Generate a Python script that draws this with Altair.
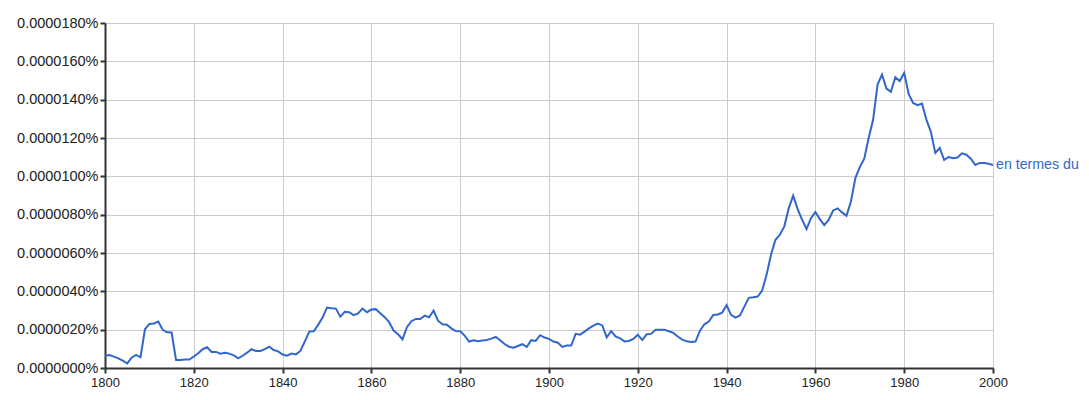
import altair as alt
import pandas as pd

years = list(range(1800, 2001))

# values in units of 0.000001 %
values = [
    0.64, 0.68, 0.59, 0.50, 0.38, 0.24, 0.54, 0.68, 0.56, 2.02,   # 1800-1809
    2.30, 2.32, 2.42, 1.99, 1.86, 1.85, 0.42, 0.42, 0.44, 0.44,   # 1810-1819
    0.60, 0.77, 0.98, 1.08, 0.84, 0.84, 0.75, 0.80, 0.75, 0.66,   # 1820-1829
    0.50, 0.64, 0.80, 0.98, 0.89, 0.89, 0.98, 1.11, 0.94, 0.87,   # 1830-1839
    0.70, 0.64, 0.75, 0.71, 0.89, 1.38, 1.90, 1.92, 2.25, 2.63,   # 1840-1849
    3.15, 3.12, 3.10, 2.68, 2.93, 2.91, 2.76, 2.85, 3.10, 2.91,   # 1850-1859
    3.05, 3.07, 2.86, 2.65, 2.39, 1.95, 1.76, 1.50, 2.13, 2.44,   # 1860-1869
    2.56, 2.56, 2.73, 2.65, 3.00, 2.47, 2.28, 2.26, 2.07, 1.93,   # 1870-1879
    1.92, 1.69, 1.38, 1.45, 1.40, 1.43, 1.46, 1.53, 1.62, 1.45,   # 1880-1889
    1.25, 1.11, 1.06, 1.15, 1.24, 1.10, 1.45, 1.41, 1.71, 1.59,   # 1890-1899
    1.52, 1.38, 1.32, 1.10, 1.17, 1.17, 1.78, 1.74, 1.90, 2.07,   # 1900-1909
    2.21, 2.32, 2.22, 1.60, 1.92, 1.65, 1.55, 1.39, 1.41, 1.52,   # 1910-1919
    1.74, 1.46, 1.76, 1.78, 1.99, 1.99, 1.99, 1.92, 1.83, 1.64,   # 1920-1929
    1.48, 1.39, 1.36, 1.38, 1.95, 2.28, 2.42, 2.77, 2.79, 2.89,   # 1930-1939
    3.28, 2.77, 2.63, 2.74, 3.20, 3.66, 3.69, 3.73, 4.04, 4.86,   # 1940-1949
    5.91, 6.69, 6.95, 7.39, 8.34, 8.99, 8.29, 7.74, 7.25, 7.82,   # 1950-1959
    8.14, 7.77, 7.46, 7.74, 8.22, 8.33, 8.12, 7.94, 8.69, 9.91,   # 1960-1969
    10.48, 10.92, 12.00, 12.96, 14.79, 15.31, 14.58, 14.41, 15.17, 14.97,  # 1970-1979
    15.40, 14.30, 13.83, 13.71, 13.80, 12.96, 12.32, 11.22, 11.48, 10.85,  # 1980-1989
    11.01, 10.94, 10.98, 11.20, 11.13, 10.92, 10.59, 10.70, 10.70, 10.66,  # 1990-1999
    10.59,                                                              # 2000
]

series_name = "en termes du"
x_ticks = list(range(1800, 2001, 20))
y_ticks = list(range(0, 19, 2))

df = pd.DataFrame({"year": years, "value": values})
df_label = pd.DataFrame({"year": [years[-1]], "value": [values[-1]], "name": [series_name]})

line_color = "#3366cc"
font = "Liberation Sans"

x_enc = alt.X(
    "year:Q",
    scale=alt.Scale(domain=[1800, 2000], nice=False, zero=False),
    axis=alt.Axis(
        values=x_ticks, format="d", title=None, grid=True, gridColor="#cccccc",
        domainColor="#333333", domainWidth=2, tickColor="#333333", tickSize=5, tickWidth=2,
        labelFont=font, labelFontSize=13, labelColor="#222222", labelPadding=3,
        labelFlush=False, labelOverlap=False,
    ),
)
y_enc = alt.Y(
    "value:Q",
    scale=alt.Scale(domain=[0, 18], nice=False),
    axis=alt.Axis(
        values=y_ticks, title=None, grid=True, gridColor="#cccccc",
        labelExpr="format(datum.value * 1e-8, '.7%')",
        domainColor="#333333", domainWidth=2, tickColor="#333333", tickSize=5, tickWidth=2,
        labelFont=font, labelFontSize=14.5, labelColor="#222222", labelPadding=2,
        labelOverlap=False, labelBound=False,
    ),
)

line = alt.Chart(df).mark_line(color=line_color, strokeWidth=2, interpolate="linear").encode(
    x=x_enc, y=y_enc
)

label = alt.Chart(df_label).mark_text(
    align="left", baseline="middle", dx=3, font=font, fontSize=14.2, color=line_color
).encode(x=x_enc, y=y_enc, text="name:N")

chart = (
    alt.layer(line, label)
    .properties(
        width=888, height=345,
        autosize=alt.AutoSizeParams(type="none"),
        padding={"left": 97, "top": 15, "right": 88, "bottom": 32},
    )
    .configure_view(stroke=None)
    .configure_axis(labelOverlap=False)
    .configure(background="white")
)

chart.save("out.html", embed_options={"renderer": "svg", "actions": False})
